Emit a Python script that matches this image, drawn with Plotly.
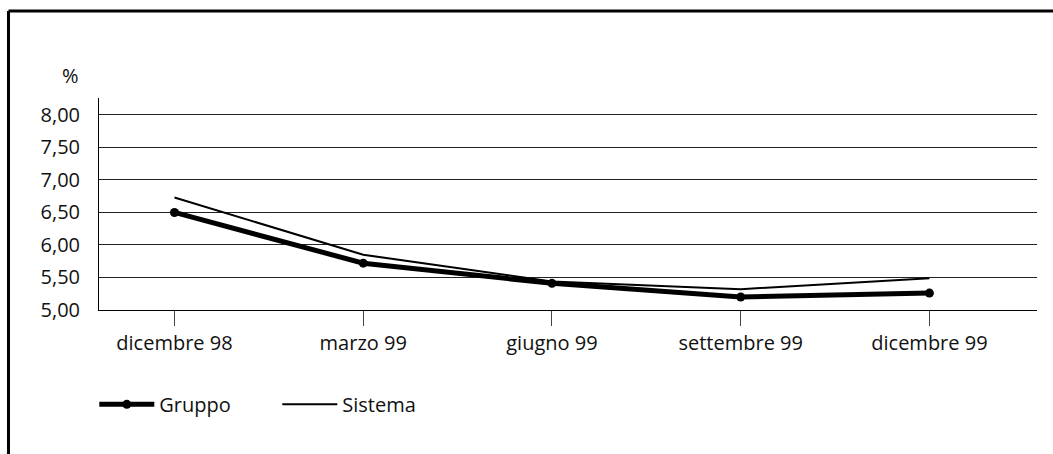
import plotly.graph_objects as go

periodi = ["dicembre 98", "marzo 99", "giugno 99", "settembre 99", "dicembre 99"]
gruppo = [6.50, 5.72, 5.41, 5.20, 5.26]
sistema = [6.73, 5.85, 5.44, 5.32, 5.49]
y_ticks = [5.0, 5.5, 6.0, 6.5, 7.0, 7.5, 8.0]
y_labels = ["5,00", "5,50", "6,00", "6,50", "7,00", "7,50", "8,00"]

FONT = "Open Sans"
FS = 20

fig = go.Figure()
fig.add_trace(go.Scatter(
    x=periodi, y=gruppo, name="Gruppo", mode="lines+markers",
    line=dict(color="black", width=5),
    marker=dict(color="black", size=9, symbol="circle"),
))
fig.add_trace(go.Scatter(
    x=periodi, y=sistema, name="Sistema", mode="lines",
    line=dict(color="black", width=2),
))

# panel frame: left edge and top edge
fig.add_shape(type="line", xref="paper", yref="paper",
              x0=-0.0965, x1=-0.0965, y0=-0.68, y1=1.41,
              line=dict(color="black", width=3))
fig.add_shape(type="line", xref="paper", yref="paper",
              x0=-0.0965, x1=1.02, y0=1.41, y1=1.41,
              line=dict(color="black", width=3))

fig.add_annotation(text="%", xref="paper", yref="paper", x=-0.042, y=1.18,
                   showarrow=False, font=dict(size=FS, color="#111", family=FONT))

fig.update_layout(
    width=1053, height=454,
    margin=dict(l=99, r=16, t=98, b=144),
    paper_bgcolor="white", plot_bgcolor="white",
    font=dict(family=FONT, size=FS, color="#111"),
    showlegend=True,
    legend=dict(orientation="h", x=-0.005, y=-0.445, xanchor="left", yanchor="middle",
                font=dict(size=FS, family=FONT), itemwidth=55, entrywidth=113,
                bgcolor="rgba(0,0,0,0)"),
    xaxis=dict(
        type="category", range=[-0.4, 4.57],
        showgrid=False, showline=True, linecolor="black", linewidth=1,
        ticks="outside", ticklen=15, tickcolor="#444", tickwidth=1,
        tickfont=dict(size=FS, family=FONT), zeroline=False,
    ),
    yaxis=dict(
        range=[5.0, 8.26], tickvals=y_ticks, ticktext=y_labels,
        showgrid=True, gridcolor="#222", gridwidth=1,
        showline=True, linecolor="black", linewidth=1,
        ticks="", ticklabelstandoff=14, zeroline=False,
        tickfont=dict(size=FS, family=FONT),
    ),
)

fig.write_html("out.html")
